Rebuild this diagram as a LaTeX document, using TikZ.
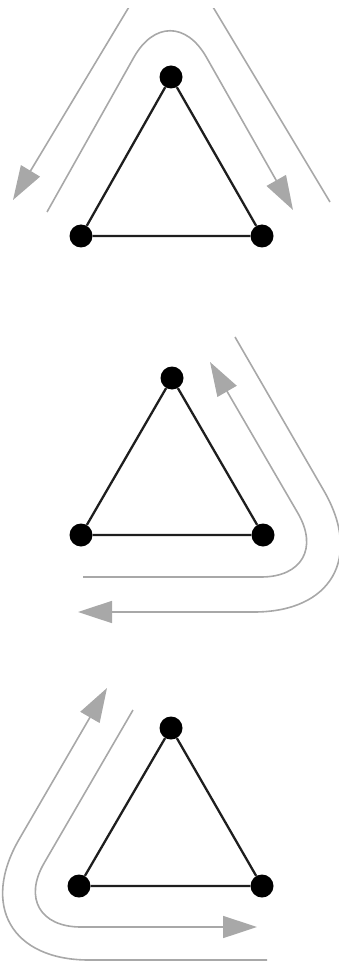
\documentclass[tikz,border=0pt]{standalone}
\usepackage{tikz}
\usetikzlibrary{arrows.meta}
\usepackage{xcolor}
\definecolor{cgris}{RGB}{168,168,168}
\definecolor{cnoir}{RGB}{30,30,30}

\begin{document}
\begin{tikzpicture}[x=1pt, y=-1pt, >={Triangle[length=34pt,width=22pt]},
  sommet/.style={circle,fill=black,inner sep=0pt,minimum size=23pt},
  cote/.style={cnoir,line width=2.3pt},
  parcours/.style={cgris,line width=1.6pt,->}]
\useasboundingbox (0,0) rectangle (339,965);
\clip (0,0) rectangle (339,965);

\node[sommet] (A1) at (171,77) {};
\node[sommet] (B1) at (81,236) {};
\node[sommet] (C1) at (262,236) {};
\draw[cote] (A1) -- (B1) -- (C1) -- (A1);
\draw[parcours,rounded corners=74pt] (47,212) -- (170,-7) -- (293,210);
\begin{scope}
\clip (0,9) rectangle (339,400);
\draw[parcours,rounded corners=40pt] (330,202) -- (171,-63) -- (13,200);
\end{scope}

\node[sommet] (A2) at (172,378) {};
\node[sommet] (B2) at (81,535) {};
\node[sommet] (C2) at (263,535) {};
\draw[cote] (A2) -- (B2) -- (C2) -- (A2);
\draw[parcours,rounded corners=74pt] (83,577) -- (335,577) -- (210,362);
\draw[parcours,rounded corners=140pt] (235,337) -- (394,612) -- (78,612);

\node[sommet] (A3) at (171,728) {};
\node[sommet] (B3) at (79,886) {};
\node[sommet] (C3) at (262,886) {};
\draw[cote] (A3) -- (B3) -- (C3) -- (A3);
\draw[parcours,rounded corners=74pt] (133,710) -- (7,927) -- (257,927);
\draw[parcours,rounded corners=140pt] (267,960) -- (-51,960) -- (107,688);
\end{tikzpicture}
\end{document}
